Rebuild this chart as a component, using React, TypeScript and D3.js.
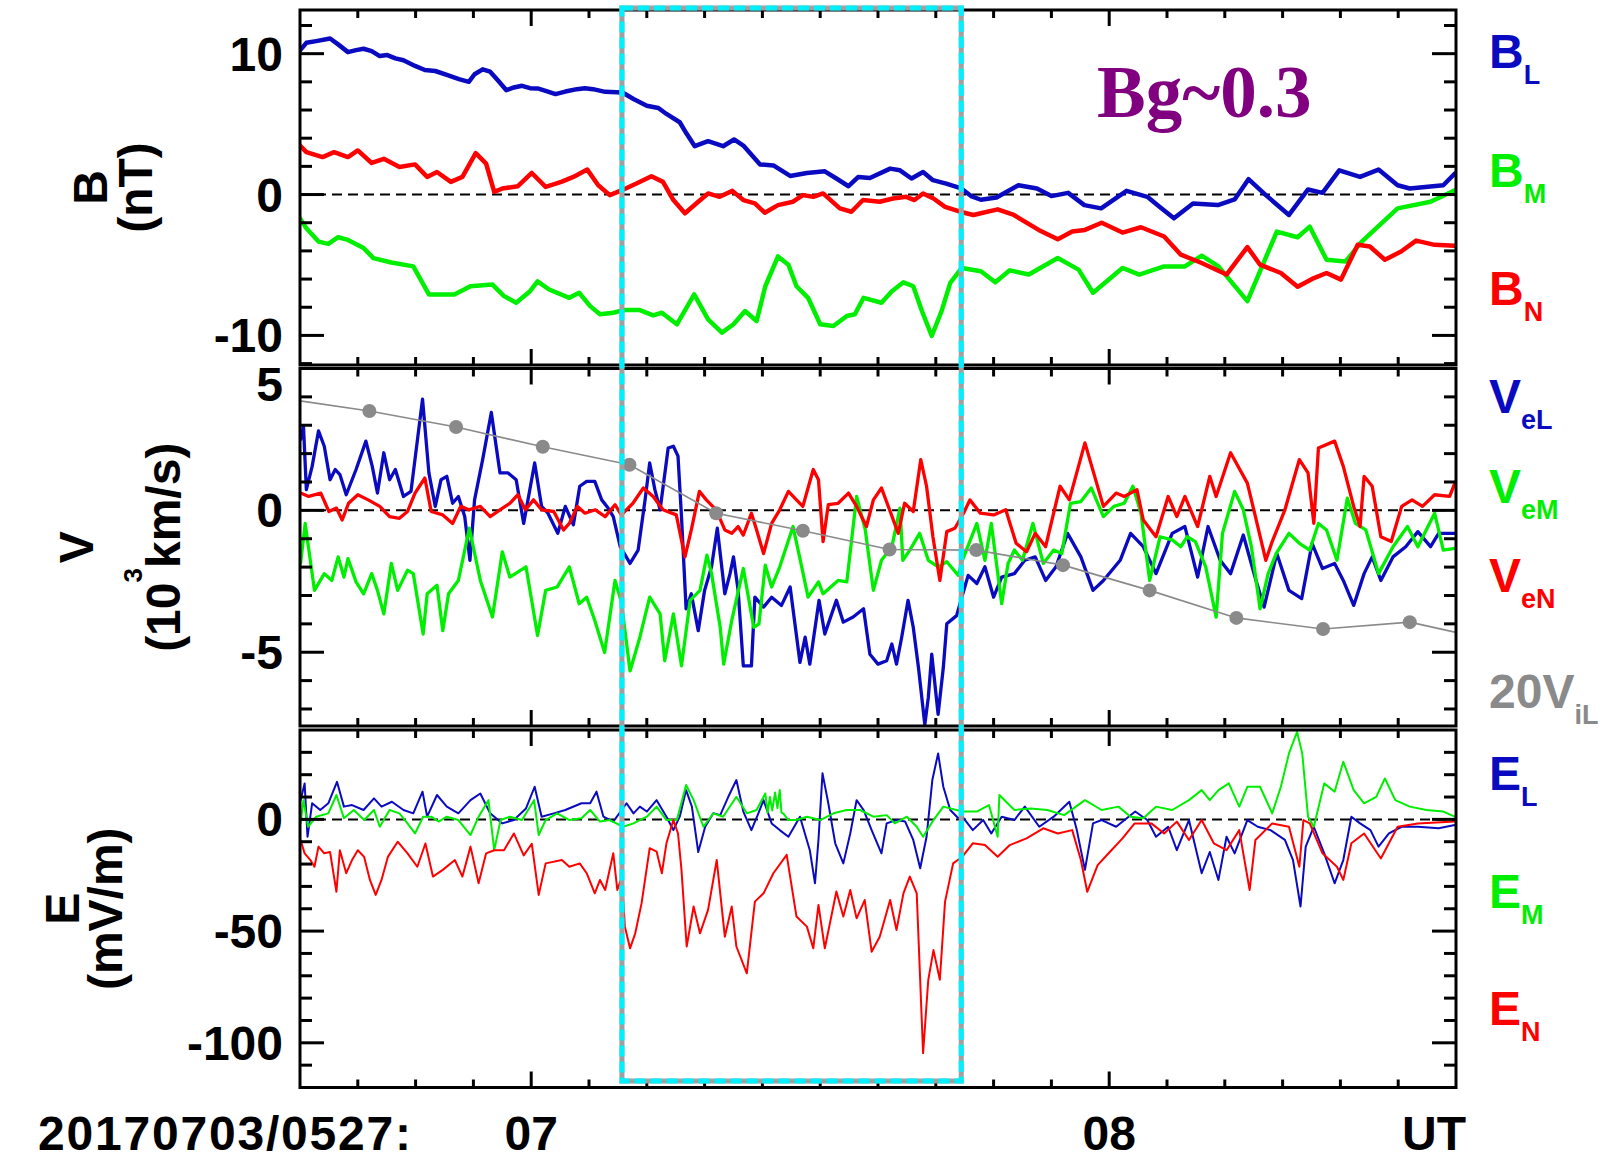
import React from 'react';
import * as d3 from 'd3';

type Pt = [number, number];

const WIDTH = 1613;
const HEIGHT = 1168;
const PLOT_LEFT = 300;
const PLOT_RIGHT = 1456;

const BLUE = '#0a0ac0';
const GREEN = '#00ee00';
const RED = '#ff0000';
const GRAY = '#8a8a8a';
const PURPLE = '#800080';

// Time axis: seconds after 2017-07-03/05:27:00 UT
const timeDomain: [number, number] = [6.6, 8.6];
const timeMinorTicks = [6.7, 6.8, 6.9, 7.0, 7.1, 7.2, 7.3, 7.4, 7.5, 7.6, 7.7, 7.8, 7.9, 8.0, 8.1, 8.2, 8.3, 8.4, 8.5];
const timeMajorTicks = [7, 8];
const timeTickLabels = ['07', '08'];

// Highlighted interval (dashed box)
const boxInterval: [number, number] = [7.157, 7.744];

// ---- Magnetic field, nT ----
const bL: Pt[] = [[6.600,10.23],[6.611,10.77],[6.628,10.89],[6.652,11.08],[6.666,10.66],[6.683,10.11],[6.697,10.25],[6.710,10.35],[6.724,10.18],[6.738,9.83],[6.751,9.90],[6.765,9.67],[6.779,9.53],[6.799,9.13],[6.816,8.84],[6.834,8.77],[6.854,8.49],[6.875,8.19],[6.892,8.00],[6.902,8.54],[6.916,8.89],[6.929,8.72],[6.943,8.07],[6.957,7.41],[6.970,7.60],[6.984,7.72],[6.998,7.55],[7.011,7.53],[7.025,7.36],[7.042,7.13],[7.059,7.31],[7.079,7.48],[7.093,7.55],[7.107,7.48],[7.128,7.29],[7.158,7.24],[7.177,6.78],[7.200,6.30],[7.220,6.14],[7.234,5.72],[7.257,5.13],[7.269,4.31],[7.283,3.43],[7.306,3.79],[7.332,3.43],[7.351,3.91],[7.367,3.48],[7.396,2.14],[7.419,2.07],[7.448,1.32],[7.477,1.53],[7.508,1.65],[7.528,1.14],[7.549,0.59],[7.566,1.25],[7.586,1.18],[7.621,1.84],[7.638,1.72],[7.658,1.14],[7.678,1.60],[7.695,1.02],[7.718,0.78],[7.744,0.43],[7.761,-0.11],[7.778,-0.37],[7.805,-0.21],[7.843,0.66],[7.875,0.43],[7.900,-0.11],[7.929,0.12],[7.957,-0.75],[7.986,-0.98],[8.030,0.26],[8.066,-0.16],[8.087,-0.87],[8.112,-1.69],[8.145,-0.63],[8.188,-0.75],[8.217,-0.35],[8.241,1.09],[8.271,-0.04],[8.311,-1.45],[8.344,0.36],[8.369,0.12],[8.398,1.72],[8.434,1.25],[8.466,1.77],[8.499,0.66],[8.520,0.43],[8.578,0.66],[8.598,1.49]];

const bM: Pt[] = [[6.600,-1.69],[6.611,-2.39],[6.632,-3.34],[6.649,-3.50],[6.666,-3.03],[6.683,-3.22],[6.710,-3.80],[6.727,-4.51],[6.758,-4.82],[6.796,-5.10],[6.823,-7.09],[6.867,-7.09],[6.895,-6.51],[6.933,-6.39],[6.953,-7.21],[6.974,-7.68],[6.998,-6.86],[7.011,-6.16],[7.031,-6.74],[7.066,-7.33],[7.083,-6.97],[7.102,-7.92],[7.119,-8.50],[7.142,-8.39],[7.159,-8.20],[7.188,-8.20],[7.211,-8.58],[7.226,-8.39],[7.252,-9.21],[7.282,-7.09],[7.306,-8.86],[7.330,-9.80],[7.350,-9.21],[7.370,-8.27],[7.390,-8.98],[7.405,-6.51],[7.427,-4.39],[7.445,-4.98],[7.459,-6.51],[7.479,-7.33],[7.500,-9.21],[7.523,-9.33],[7.546,-8.62],[7.560,-8.50],[7.575,-7.33],[7.606,-7.68],[7.624,-6.86],[7.644,-6.23],[7.661,-6.51],[7.676,-8.27],[7.693,-10.04],[7.710,-8.27],[7.725,-6.27],[7.745,-5.21],[7.778,-5.45],[7.803,-6.23],[7.828,-5.38],[7.861,-5.68],[7.911,-4.51],[7.947,-5.33],[7.972,-6.97],[8.023,-5.21],[8.052,-5.68],[8.095,-5.10],[8.131,-5.10],[8.160,-4.34],[8.189,-5.10],[8.239,-7.57],[8.290,-2.63],[8.326,-3.03],[8.347,-2.28],[8.376,-4.63],[8.409,-4.75],[8.437,-3.34],[8.499,-0.98],[8.556,-0.51],[8.598,0.31]];

const bN: Pt[] = [[6.600,3.48],[6.611,3.01],[6.639,2.66],[6.659,3.01],[6.683,2.66],[6.700,3.13],[6.724,2.24],[6.745,2.54],[6.772,1.95],[6.799,2.14],[6.820,1.25],[6.837,1.60],[6.861,0.90],[6.881,1.25],[6.904,2.94],[6.922,2.19],[6.936,0.19],[6.950,0.43],[6.977,0.59],[7.001,1.53],[7.025,0.54],[7.052,0.90],[7.073,1.25],[7.097,1.77],[7.116,0.66],[7.136,-0.04],[7.157,0.31],[7.182,0.78],[7.208,1.30],[7.228,0.90],[7.246,-0.39],[7.266,-1.33],[7.289,-0.51],[7.306,0.08],[7.326,-0.16],[7.348,0.26],[7.367,-0.39],[7.387,-0.63],[7.404,-1.29],[7.427,-0.75],[7.453,-0.51],[7.470,-0.04],[7.488,-0.16],[7.505,0.08],[7.534,-0.98],[7.554,-1.22],[7.574,-0.39],[7.603,-0.51],[7.626,-0.28],[7.649,-0.16],[7.663,-0.39],[7.678,0.08],[7.696,-0.28],[7.716,-0.87],[7.742,-1.22],[7.765,-1.45],[7.778,-1.33],[7.807,-1.05],[7.835,-1.45],[7.878,-2.51],[7.911,-3.17],[7.936,-2.63],[7.958,-2.51],[7.987,-2.00],[8.023,-2.70],[8.055,-2.32],[8.095,-2.98],[8.124,-4.27],[8.160,-4.86],[8.203,-5.68],[8.239,-3.73],[8.261,-4.98],[8.297,-5.57],[8.326,-6.55],[8.351,-5.99],[8.376,-5.57],[8.401,-6.04],[8.430,-3.57],[8.451,-3.69],[8.477,-4.63],[8.505,-4.04],[8.531,-3.27],[8.563,-3.57],[8.598,-3.64]];

// ---- Electron velocity, 10^3 km/s ----
const veL: Pt[] = [[6.601,2.50],[6.606,2.97],[6.611,0.73],[6.621,1.55],[6.632,2.80],[6.642,2.26],[6.652,1.08],[6.661,1.44],[6.669,1.26],[6.680,0.55],[6.697,1.44],[6.714,2.44],[6.725,1.55],[6.734,0.61],[6.745,2.03],[6.755,1.08],[6.765,1.44],[6.779,0.49],[6.792,0.67],[6.812,3.92],[6.823,1.32],[6.834,0.14],[6.844,1.08],[6.854,1.20],[6.864,0.25],[6.874,0.49],[6.885,-0.22],[6.894,-1.76],[6.902,0.37],[6.916,1.79],[6.931,3.45],[6.946,1.32],[6.960,1.32],[6.974,1.08],[6.987,-0.46],[7.006,1.67],[7.018,0.14],[7.029,-0.10],[7.046,-0.81],[7.059,0.14],[7.073,-0.51],[7.084,0.85],[7.096,1.02],[7.110,1.02],[7.122,0.37],[7.133,0.08],[7.142,-0.22],[7.154,-1.28],[7.171,-1.87],[7.185,-1.40],[7.197,0.37],[7.205,1.67],[7.214,0.73],[7.223,0.02],[7.237,2.20],[7.246,2.26],[7.254,1.91],[7.260,-0.22],[7.268,-3.47],[7.277,-2.94],[7.289,-4.24],[7.300,-2.82],[7.312,-1.99],[7.322,-0.63],[7.335,-2.94],[7.344,-2.23],[7.350,-1.64],[7.358,-2.82],[7.367,-5.48],[7.381,-5.48],[7.387,-3.06],[7.402,-3.41],[7.416,-3.06],[7.433,-3.35],[7.448,-2.70],[7.465,-5.36],[7.474,-4.47],[7.482,-5.42],[7.498,-3.17],[7.508,-4.36],[7.514,-4.00],[7.528,-3.17],[7.540,-3.94],[7.557,-3.76],[7.575,-3.47],[7.586,-5.07],[7.600,-5.42],[7.615,-5.30],[7.624,-4.71],[7.632,-5.42],[7.641,-4.47],[7.652,-3.17],[7.661,-4.12],[7.670,-5.54],[7.681,-7.55],[7.687,-6.60],[7.693,-5.07],[7.704,-7.19],[7.713,-5.54],[7.719,-4.00],[7.736,-3.71],[7.745,-3.06],[7.756,-2.29],[7.771,-2.58],[7.785,-1.99],[7.800,-3.06],[7.814,-2.35],[7.836,-2.23],[7.854,-1.76],[7.872,-1.64],[7.890,-2.47],[7.908,-1.99],[7.928,-0.81],[7.951,-1.64],[7.972,-2.82],[7.990,-2.47],[8.019,-1.76],[8.037,-0.81],[8.059,-1.28],[8.081,-2.23],[8.109,-0.81],[8.131,-0.57],[8.153,-2.35],[8.171,-0.57],[8.192,-1.76],[8.210,-2.23],[8.232,-0.87],[8.254,-2.47],[8.268,-3.41],[8.290,-1.52],[8.311,-2.82],[8.333,-3.11],[8.351,-1.16],[8.369,-2.05],[8.390,-1.87],[8.405,-2.47],[8.423,-3.35],[8.441,-2.23],[8.455,-1.64],[8.470,-2.47],[8.491,-1.64],[8.513,-1.28],[8.534,-0.75],[8.556,-1.28],[8.570,-0.81],[8.598,-0.81]];

const veM: Pt[] = [[6.601,-1.87],[6.609,-0.46],[6.625,-2.82],[6.642,-2.23],[6.655,-2.47],[6.666,-1.64],[6.676,-2.35],[6.683,-1.70],[6.697,-2.52],[6.710,-2.94],[6.724,-2.23],[6.734,-2.82],[6.745,-3.65],[6.758,-1.87],[6.769,-2.82],[6.786,-2.11],[6.796,-2.23],[6.813,-4.36],[6.820,-2.94],[6.837,-2.64],[6.847,-4.24],[6.857,-2.94],[6.874,-2.47],[6.893,-0.63],[6.912,-2.47],[6.933,-3.76],[6.950,-1.46],[6.963,-2.35],[6.991,-1.99],[7.011,-4.41],[7.025,-2.82],[7.045,-2.70],[7.066,-1.99],[7.083,-3.29],[7.096,-3.06],[7.110,-3.88],[7.127,-5.01],[7.145,-2.47],[7.156,-3.23],[7.171,-5.66],[7.188,-4.47],[7.205,-3.06],[7.223,-3.65],[7.231,-5.30],[7.246,-3.65],[7.260,-5.48],[7.275,-3.17],[7.292,-2.82],[7.304,-1.58],[7.312,-2.23],[7.327,-4.12],[7.333,-5.42],[7.347,-3.88],[7.367,-2.05],[7.385,-4.12],[7.394,-4.00],[7.405,-1.93],[7.416,-2.70],[7.430,-1.99],[7.453,-0.57],[7.468,-1.99],[7.479,-3.06],[7.497,-2.52],[7.505,-2.94],[7.531,-2.47],[7.546,-2.52],[7.563,0.49],[7.578,-0.69],[7.592,-2.82],[7.606,-1.76],[7.624,-1.28],[7.638,0.08],[7.643,-1.76],[7.655,-1.40],[7.672,-0.81],[7.687,-1.76],[7.704,-1.99],[7.719,-1.81],[7.739,-2.29],[7.746,-1.76],[7.771,-0.46],[7.785,-1.76],[7.796,-0.46],[7.814,-3.29],[7.825,-1.87],[7.836,-1.40],[7.850,-1.76],[7.868,-0.46],[7.886,-1.87],[7.904,-1.40],[7.918,-1.52],[7.933,0.25],[7.951,0.31],[7.969,0.79],[7.990,-0.22],[8.008,0.14],[8.026,0.25],[8.041,0.85],[8.055,-0.10],[8.070,-2.47],[8.088,-0.93],[8.109,-1.04],[8.124,-1.28],[8.135,-0.93],[8.149,-1.10],[8.167,-1.99],[8.185,-3.76],[8.196,-0.81],[8.217,0.67],[8.232,0.02],[8.246,-1.28],[8.261,-3.47],[8.275,-2.23],[8.289,-1.52],[8.311,-0.81],[8.329,-1.16],[8.347,-1.40],[8.362,-0.46],[8.376,-0.69],[8.394,-1.76],[8.412,0.43],[8.426,-0.46],[8.444,-0.69],[8.466,-2.23],[8.491,-1.28],[8.516,-0.57],[8.534,-1.28],[8.563,-0.10],[8.578,-1.40],[8.598,-1.34]];

const veN: Pt[] = [[6.601,0.61],[6.615,0.49],[6.636,0.61],[6.650,-0.04],[6.663,0.08],[6.673,-0.34],[6.684,0.25],[6.700,0.55],[6.718,0.37],[6.738,0.14],[6.755,-0.22],[6.772,-0.28],[6.786,-0.04],[6.799,0.61],[6.816,1.14],[6.827,-0.04],[6.847,-0.16],[6.864,-0.46],[6.878,0.14],[6.892,0.02],[6.912,0.14],[6.929,-0.22],[6.946,0.02],[6.963,0.25],[6.977,0.55],[6.990,0.02],[7.004,0.37],[7.018,0.02],[7.039,-0.04],[7.056,-0.69],[7.066,-0.46],[7.080,0.14],[7.093,-0.10],[7.111,0.02],[7.128,-0.22],[7.145,0.20],[7.156,-0.16],[7.176,0.25],[7.194,0.79],[7.211,0.49],[7.228,0.02],[7.251,-0.16],[7.266,-1.64],[7.277,-0.69],[7.291,0.67],[7.303,0.37],[7.320,0.02],[7.335,-0.69],[7.347,-0.81],[7.358,-0.57],[7.367,-0.87],[7.381,-0.10],[7.390,-0.69],[7.402,-1.52],[7.416,-0.46],[7.430,0.02],[7.445,0.67],[7.459,0.37],[7.470,0.14],[7.488,1.44],[7.497,1.08],[7.505,-1.10],[7.514,0.20],[7.531,0.25],[7.549,0.61],[7.563,0.14],[7.580,-0.57],[7.592,0.37],[7.606,0.79],[7.620,0.02],[7.635,-0.81],[7.646,0.25],[7.661,-0.04],[7.674,1.79],[7.684,0.85],[7.695,-0.93],[7.707,-2.47],[7.719,-0.75],[7.733,-0.63],[7.748,-0.10],[7.759,0.37],[7.777,-0.10],[7.800,-0.16],[7.821,0.02],[7.839,-1.16],[7.857,-1.46],[7.872,-0.81],[7.890,-1.28],[7.915,0.85],[7.931,0.37],[7.958,2.38],[7.990,0.14],[8.012,0.61],[8.026,0.49],[8.048,0.73],[8.059,-0.34],[8.081,-0.93],[8.102,0.49],[8.117,-0.22],[8.131,0.49],[8.153,-0.57],[8.174,1.20],[8.185,0.49],[8.210,2.03],[8.239,0.96],[8.253,-0.22],[8.271,-1.76],[8.282,-1.10],[8.304,0.02],[8.329,1.79],[8.344,1.32],[8.354,-0.46],[8.362,2.20],[8.390,2.44],[8.405,1.55],[8.423,0.14],[8.434,-0.57],[8.441,1.20],[8.455,0.85],[8.470,-0.93],[8.488,-1.10],[8.506,0.14],[8.524,0.37],[8.542,0.14],[8.563,0.55],[8.589,0.49],[8.598,0.96]];

// Ion velocity x20, 10^3 km/s (sparser cadence, drawn with markers)
const viL20: Pt[] = [[6.600,3.86],[6.72,3.50],[6.87,2.94],[7.02,2.24],[7.17,1.61],[7.32,-0.10],[7.47,-0.72],[7.62,-1.38],[7.77,-1.40],[7.92,-1.93],[8.07,-2.82],[8.22,-3.79],[8.37,-4.18],[8.52,-3.94],[8.600,-4.30]];

// ---- Electric field, mV/m ----
const eL: Pt[] = [[6.601,8.6],[6.608,16.1],[6.613,-7.8],[6.621,7.2],[6.635,4.2],[6.649,7.2],[6.664,16.8],[6.676,5.7],[6.690,6.4],[6.710,4.2],[6.728,9.4],[6.741,5.7],[6.759,7.9],[6.779,4.2],[6.796,2.7],[6.812,12.4],[6.820,1.2],[6.837,10.9],[6.854,5.7],[6.874,2.7],[6.895,8.6],[6.912,11.6],[6.929,2.7],[6.950,-1.8],[6.970,-0.3],[6.991,4.9],[7.006,14.6],[7.018,1.2],[7.039,2.7],[7.059,4.2],[7.087,7.2],[7.102,7.2],[7.113,12.4],[7.125,1.2],[7.142,-1.0],[7.165,7.2],[7.177,2.7],[7.188,5.7],[7.200,3.5],[7.217,8.6],[7.234,1.2],[7.246,-4.8],[7.257,1.2],[7.268,13.1],[7.278,5.7],[7.289,-14.6],[7.301,-3.3],[7.315,2.7],[7.327,1.9],[7.341,10.1],[7.355,17.6],[7.367,3.5],[7.381,-4.8],[7.393,2.7],[7.402,8.6],[7.416,-1.8],[7.430,-4.8],[7.445,-7.8],[7.465,1.2],[7.482,-13.8],[7.491,-28.6],[7.497,-9.2],[7.504,20.6],[7.514,7.2],[7.526,-10.7],[7.540,-19.7],[7.552,-6.3],[7.563,8.6],[7.575,4.2],[7.589,-4.8],[7.606,-15.2],[7.615,-1.8],[7.632,-0.3],[7.647,-1.0],[7.661,-9.2],[7.673,-21.9],[7.684,-7.8],[7.694,17.6],[7.704,29.5],[7.713,14.6],[7.725,4.2],[7.739,0.5],[7.746,1.2],[7.764,-4.8],[7.782,-0.3],[7.796,-6.3],[7.814,1.2],[7.836,-0.3],[7.854,5.7],[7.879,-3.3],[7.904,1.2],[7.931,7.9],[7.944,-4.8],[7.958,-22.6],[7.972,-1.8],[7.987,-0.3],[8.012,-3.3],[8.045,3.5],[8.066,-0.3],[8.081,-7.8],[8.102,-3.3],[8.117,-13.8],[8.138,-0.3],[8.160,-24.1],[8.174,-14.6],[8.189,-27.1],[8.203,-7.8],[8.217,-15.2],[8.239,-0.3],[8.257,-3.3],[8.279,-4.8],[8.304,-9.2],[8.318,-18.2],[8.331,-39.0],[8.340,-12.2],[8.354,-3.3],[8.372,-15.2],[8.390,-28.6],[8.405,-18.2],[8.419,1.2],[8.434,-1.8],[8.452,-4.8],[8.466,-12.2],[8.484,-6.3],[8.506,-3.3],[8.534,-3.3],[8.570,-4.0],[8.598,-2.5]];

const eM: Pt[] = [[6.601,-1.8],[6.606,8.6],[6.614,-3.3],[6.628,1.2],[6.649,2.7],[6.663,10.9],[6.676,0.5],[6.693,4.2],[6.711,-0.3],[6.728,4.2],[6.738,-3.3],[6.755,4.2],[6.772,2.7],[6.786,-1.8],[6.799,-6.3],[6.813,1.2],[6.827,1.2],[6.840,-1.0],[6.854,1.2],[6.874,-0.3],[6.895,-7.0],[6.909,1.2],[6.926,8.6],[6.936,-13.8],[6.947,-0.3],[6.963,1.2],[6.984,-0.3],[7.005,8.6],[7.013,-7.0],[7.025,-0.3],[7.045,2.7],[7.066,-0.3],[7.087,0.5],[7.102,4.2],[7.119,-1.0],[7.136,-0.3],[7.159,-3.3],[7.177,-1.8],[7.200,1.2],[7.217,5.7],[7.234,-0.3],[7.252,-0.3],[7.268,15.4],[7.281,8.6],[7.298,-3.3],[7.315,2.7],[7.332,1.2],[7.355,10.1],[7.373,2.7],[7.390,4.2],[7.405,11.6],[7.409,3.0],[7.413,10.0],[7.417,4.0],[7.422,12.0],[7.426,5.0],[7.430,13.1],[7.433,3.0],[7.436,2.7],[7.445,-0.3],[7.459,-0.3],[7.477,1.2],[7.500,-0.3],[7.523,2.7],[7.546,4.2],[7.569,4.2],[7.592,1.2],[7.615,1.9],[7.629,-1.8],[7.650,1.2],[7.667,-3.3],[7.678,-7.8],[7.696,-0.3],[7.713,5.7],[7.736,4.2],[7.746,3.5],[7.771,3.5],[7.792,6.4],[7.807,-7.8],[7.810,10.9],[7.836,4.2],[7.864,4.9],[7.893,4.2],[7.922,1.9],[7.958,8.6],[7.987,4.2],[8.016,5.7],[8.037,1.2],[8.059,0.5],[8.081,5.7],[8.109,4.2],[8.138,8.6],[8.160,13.1],[8.174,8.6],[8.189,13.1],[8.207,16.1],[8.225,5.7],[8.239,14.6],[8.261,14.6],[8.282,2.7],[8.297,14.6],[8.311,29.5],[8.325,39.2],[8.334,29.5],[8.344,1.2],[8.354,-3.3],[8.372,16.1],[8.390,12.4],[8.405,25.8],[8.423,13.1],[8.441,7.2],[8.462,10.1],[8.477,18.3],[8.495,8.6],[8.520,5.7],[8.549,4.2],[8.578,3.5],[8.598,1.2]];

const eN: Pt[] = [[6.601,-9.2],[6.608,-15.2],[6.618,-18.2],[6.625,-21.2],[6.632,-12.2],[6.642,-15.2],[6.652,-14.6],[6.663,-32.4],[6.669,-13.8],[6.680,-24.1],[6.690,-18.2],[6.700,-13.8],[6.711,-16.8],[6.721,-27.1],[6.731,-33.8],[6.741,-27.1],[6.752,-16.8],[6.769,-10.0],[6.786,-15.2],[6.803,-21.2],[6.817,-10.8],[6.830,-25.6],[6.847,-22.6],[6.868,-18.2],[6.881,-25.6],[6.895,-12.2],[6.909,-28.6],[6.922,-15.2],[6.936,-13.8],[6.953,-13.8],[6.970,-6.3],[6.987,-16.1],[7.001,-10.9],[7.013,-33.8],[7.025,-19.7],[7.053,-18.2],[7.066,-21.2],[7.084,-19.7],[7.096,-24.1],[7.110,-33.1],[7.119,-27.1],[7.128,-31.6],[7.142,-15.2],[7.149,-31.6],[7.157,-25.6],[7.162,-47.9],[7.171,-57.7],[7.180,-51.0],[7.191,-37.5],[7.205,-12.9],[7.217,-14.4],[7.226,-24.1],[7.234,-10.7],[7.246,-0.3],[7.254,-6.3],[7.260,-22.6],[7.269,-56.9],[7.281,-39.0],[7.292,-51.0],[7.306,-40.5],[7.321,-18.2],[7.335,-52.5],[7.347,-39.0],[7.355,-56.9],[7.373,-68.9],[7.387,-36.8],[7.402,-33.1],[7.419,-24.1],[7.442,-15.9],[7.459,-43.5],[7.477,-48.0],[7.488,-57.7],[7.497,-38.3],[7.508,-57.7],[7.528,-32.3],[7.540,-43.5],[7.552,-31.6],[7.563,-44.3],[7.577,-36.1],[7.589,-59.2],[7.603,-52.5],[7.621,-36.1],[7.632,-49.5],[7.644,-33.1],[7.655,-25.6],[7.667,-33.1],[7.678,-104.6],[7.687,-71.8],[7.696,-58.5],[7.707,-71.8],[7.716,-36.8],[7.730,-19.7],[7.746,-16.7],[7.764,-10.7],[7.785,-11.5],[7.807,-16.7],[7.828,-11.5],[7.857,-8.5],[7.886,-4.0],[7.911,-6.3],[7.936,-4.8],[7.951,-18.2],[7.962,-32.4],[7.980,-20.5],[8.001,-14.6],[8.023,-8.5],[8.044,-1.8],[8.073,-1.8],[8.095,-6.3],[8.117,-1.0],[8.138,-9.2],[8.160,-0.3],[8.181,-10.7],[8.203,-13.8],[8.225,-4.8],[8.243,-31.6],[8.253,-9.2],[8.282,-1.8],[8.311,-3.3],[8.329,-21.2],[8.336,-0.3],[8.347,-1.8],[8.369,-15.2],[8.394,-21.2],[8.405,-27.1],[8.419,-10.7],[8.441,-6.3],[8.470,-17.5],[8.499,-3.3],[8.534,-1.8],[8.598,-1.0]];

// Y tick values per panel
const bMinorTicks = [-12, -10, -8, -6, -4, -2, 0, 2, 4, 6, 8, 10, 12];
const bMajorTicks = [-10, 0, 10];
const vMinorTicks = [-7, -6, -5, -4, -3, -2, -1, 0, 1, 2, 3, 4, 5];
const vMajorTicks = [-5, 0, 5];
const eMinorTicks = [-120, -110, -100, -90, -80, -70, -60, -50, -40, -30, -20, -10, 0, 10, 20, 30, 40];
const eMajorTicks = [-100, -50, 0];

type Seg = { text: string; sup?: boolean };
type Series = { data: Pt[]; color: string; width: number; markers?: boolean };
type Legend = { main: string; sub: string; color: string; y: number };
type PanelDef = {
  id: string;
  top: number;
  bottom: number;
  domain: [number, number];
  minor: number[];
  major: number[];
  title: { x: number; segs: Seg[] }[];
  series: Series[];
  legend: Legend[];
};

const panels: PanelDef[] = [
  {
    id: 'b', top: 10, bottom: 365, domain: [-12.1, 13.1],
    minor: bMinorTicks, major: bMajorTicks,
    title: [{ x: 107, segs: [{ text: 'B' }] }, { x: 152, segs: [{ text: '(nT)' }] }],
    series: [
      { data: bL, color: BLUE, width: 4.5 },
      { data: bM, color: GREEN, width: 4.5 },
      { data: bN, color: RED, width: 4.5 },
    ],
    legend: [
      { main: 'B', sub: 'L', color: BLUE, y: 68 },
      { main: 'B', sub: 'M', color: GREEN, y: 187 },
      { main: 'B', sub: 'N', color: RED, y: 305 },
    ],
  },
  {
    id: 'v', top: 368.5, bottom: 726, domain: [-7.6, 5.0],
    minor: vMinorTicks, major: vMajorTicks,
    title: [
      { x: 93, segs: [{ text: 'V' }] },
      { x: 180, segs: [{ text: '(10' }, { text: '3', sup: true }, { text: 'km/s)' }] },
    ],
    series: [
      { data: veL, color: BLUE, width: 3.3 },
      { data: veM, color: GREEN, width: 3.3 },
      { data: veN, color: RED, width: 3.3 },
      { data: viL20, color: GRAY, width: 1.6, markers: true },
    ],
    legend: [
      { main: 'V', sub: 'eL', color: BLUE, y: 413 },
      { main: 'V', sub: 'eM', color: GREEN, y: 503 },
      { main: 'V', sub: 'eN', color: RED, y: 592 },
      { main: '20V', sub: 'iL', color: GRAY, y: 708 },
    ],
  },
  {
    id: 'e', top: 730, bottom: 1087.5, domain: [-120, 40],
    minor: eMinorTicks, major: eMajorTicks,
    title: [{ x: 79, segs: [{ text: 'E' }] }, { x: 122, segs: [{ text: '(mV/m)' }] }],
    series: [
      { data: eL, color: BLUE, width: 2 },
      { data: eM, color: GREEN, width: 2 },
      { data: eN, color: RED, width: 2 },
    ],
    legend: [
      { main: 'E', sub: 'L', color: BLUE, y: 790 },
      { main: 'E', sub: 'M', color: GREEN, y: 908 },
      { main: 'E', sub: 'N', color: RED, y: 1025 },
    ],
  },
];

const FONT = "'Liberation Sans', Arial, Helvetica, sans-serif";
const LABEL_SIZE = 48;
const SUB_SIZE = 27;
const AXIS_W = 3;
const Y_MAJOR_LEN = 24;
const Y_MINOR_LEN = 12;
const X_MAJOR_LEN = 16;
const X_MINOR_LEN = 8;

function Panel({ p, x }: { p: PanelDef; x: d3.ScaleLinear<number, number> }) {
  const y = d3.scaleLinear().domain(p.domain).range([p.bottom, p.top]);
  const line = d3
    .line<Pt>()
    .x((d) => x(d[0]))
    .y((d) => y(d[1]));
  const clipId = `clip-${p.id}`;
  const midY = (p.top + p.bottom) / 2;
  const [x0, x1] = x.range();

  return (
    <g>
      <defs>
        <clipPath id={clipId}>
          <rect x={x0} y={p.top} width={x1 - x0} height={p.bottom - p.top} />
        </clipPath>
      </defs>

      {/* zero reference */}
      <line x1={x0} x2={x1} y1={y(0)} y2={y(0)} stroke="#000" strokeWidth={2} strokeDasharray="10 6" />

      <g clipPath={`url(#${clipId})`}>
        {p.series.map((s, i) => (
          <g key={i}>
            <path d={line(s.data) ?? ''} fill="none" stroke={s.color} strokeWidth={s.width} strokeLinejoin="round" strokeLinecap="round" />
            {s.markers &&
              s.data
                .filter((d) => d[0] > timeDomain[0] && d[0] < timeDomain[1])
                .map((d, j) => <circle key={j} cx={x(d[0])} cy={y(d[1])} r={7} fill={s.color} />)}
          </g>
        ))}
      </g>

      {/* frame */}
      <rect x={x0} y={p.top} width={x1 - x0} height={p.bottom - p.top} fill="none" stroke="#000" strokeWidth={AXIS_W} />

      {/* y ticks, both sides */}
      {p.minor.map((v) => {
        const isMajor = p.major.includes(v);
        const len = isMajor ? Y_MAJOR_LEN : Y_MINOR_LEN;
        const yy = y(v);
        if (yy < p.top + 1 || yy > p.bottom - 1) return null;
        return (
          <g key={`yt${v}`} stroke="#000" strokeWidth={AXIS_W}>
            <line x1={x0} x2={x0 + len} y1={yy} y2={yy} />
            <line x1={x1} x2={x1 - len} y1={yy} y2={yy} />
          </g>
        );
      })}

      {/* x ticks, top and bottom */}
      {timeMinorTicks.map((t) => {
        const isMajor = timeMajorTicks.some((m) => Math.abs(m - t) < 1e-6);
        const len = isMajor ? X_MAJOR_LEN : X_MINOR_LEN;
        const xx = x(t);
        return (
          <g key={`xt${t}`} stroke="#000" strokeWidth={AXIS_W}>
            <line x1={xx} x2={xx} y1={p.top} y2={p.top + len} />
            <line x1={xx} x2={xx} y1={p.bottom} y2={p.bottom - len} />
          </g>
        );
      })}

      {/* y tick labels */}
      {p.major.map((v) => {
        const center = Math.max(y(v), p.top + 15);
        return (
          <text key={`yl${v}`} x={283} y={center + 17} textAnchor="end" fontSize={LABEL_SIZE} fill="#000">
            {v}
          </text>
        );
      })}

      {/* axis title, two rotated lines */}
      {p.title.map((ln, i) => (
        <text key={`ti${i}`} transform={`translate(${ln.x},${midY}) rotate(-90)`} textAnchor="middle" fontSize={LABEL_SIZE} fill="#000">
          {ln.segs.map((s, k) =>
            s.sup ? (
              <tspan key={k} fontSize={26} dy={-38}>
                {s.text}
              </tspan>
            ) : (
              <tspan key={k} dy={k > 0 && ln.segs[k - 1].sup ? 38 : 0}>
                {s.text}
              </tspan>
            ),
          )}
        </text>
      ))}

      {/* component labels */}
      {p.legend.map((l, i) => (
        <text key={`lg${i}`} x={1489} y={l.y} fontSize={LABEL_SIZE} fill={l.color}>
          {l.main}
          <tspan fontSize={SUB_SIZE} dy={16}>
            {l.sub}
          </tspan>
        </text>
      ))}
    </g>
  );
}

export default function App() {
  const x = d3.scaleLinear().domain(timeDomain).range([PLOT_LEFT, PLOT_RIGHT]);
  const boxTop = 8;
  const boxBottom = 1081;
  const bx0 = x(boxInterval[0]);
  const bx1 = x(boxInterval[1]);

  return (
    <svg
      width={WIDTH}
      height={HEIGHT}
      viewBox={`0 0 ${WIDTH} ${HEIGHT}`}
      style={{ position: 'absolute', left: 0, top: 0, background: '#fff' }}
      fontFamily={FONT}
      fontWeight="bold"
    >
      <rect x={0} y={0} width={WIDTH} height={HEIGHT} fill="#fff" />
      {panels.map((p) => (
        <Panel key={p.id} p={p} x={x} />
      ))}

      {/* highlighted interval */}
      <rect x={bx0} y={boxTop} width={bx1 - bx0} height={boxBottom - boxTop} fill="none" stroke="#a0a0a0" strokeWidth={5} />
      <rect x={bx0} y={boxTop} width={bx1 - bx0} height={boxBottom - boxTop} fill="none" stroke="#00f0ff" strokeWidth={5} strokeDasharray="11 5" />

      {/* guide field annotation */}
      <text x={1097} y={117} fontFamily="'Liberation Serif', 'Times New Roman', serif" fontWeight="bold" fontSize={73} fill={PURPLE}>
        Bg~0.3
      </text>

      {/* time axis labels */}
      <text x={38} y={1150} fontSize={LABEL_SIZE} fill="#000" textLength={373} lengthAdjust="spacing">
        20170703/0527:
      </text>
      {timeMajorTicks.map((t, i) => (
        <text key={t} x={x(t)} y={1150} textAnchor="middle" fontSize={LABEL_SIZE} fill="#000">
          {timeTickLabels[i]}
        </text>
      ))}
      <text x={1466} y={1150} textAnchor="end" fontSize={LABEL_SIZE} fill="#000">
        UT
      </text>
    </svg>
  );
}
